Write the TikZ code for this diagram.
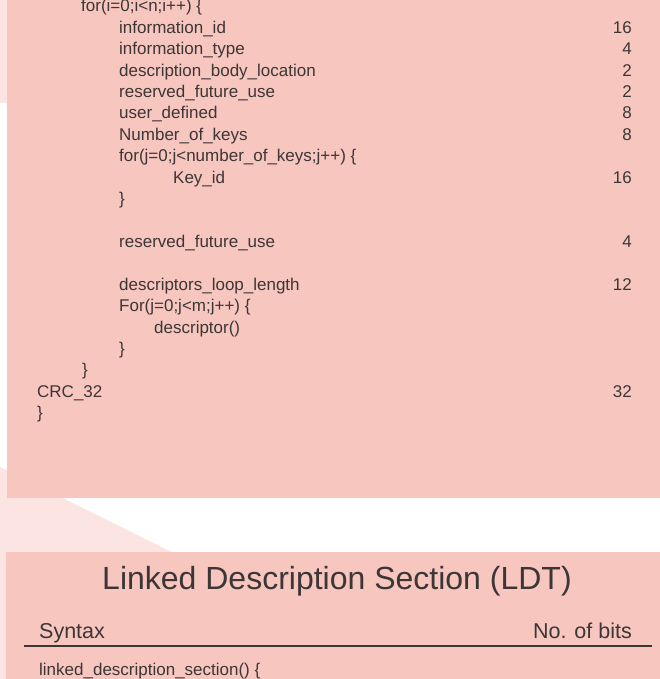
\documentclass[tikz,border=0pt]{standalone}
\usepackage{fontspec}
\setmainfont{Liberation Sans}
\definecolor{ldtpink}{HTML}{F7C6BE}
\definecolor{ldtpale}{HTML}{FBE4E2}
\definecolor{ldtink}{HTML}{3C3636}
\tikzset{
  row/.style={anchor=base west,inner sep=0pt,text=ldtink,font=\fontsize{17}{20}\selectfont},
  bits/.style={anchor=base east,inner sep=0pt,text=ldtink,font=\fontsize{17}{20}\selectfont},
  head/.style={inner sep=0pt,text=ldtink,font=\fontsize{21.5}{24}\selectfont}
}

\begin{document}
\begin{tikzpicture}[x=1pt,y=-1pt]
    \useasboundingbox (0,0) rectangle (660,679);
    \path[fill=ldtpale] (0,0) rectangle (200,103);
    \path[fill=ldtpale] (0,467) -- (230,581) -- (230,679) -- (0,679) -- cycle;
    \path[fill=ldtpink] (7,0) rectangle (660,498);
    \path[fill=ldtpink] (6,552) rectangle (660,679);

    \node[row] (fori) at (81,12) {for(i=0;i<n;i++) \{};
    \node[row] (infoid) at (119,33.4) {information\_id};
    \node[row] (infotype) at (119,54.8) {information\_type};
    \node[row] (bodyloc) at (119,76.2) {description\_body\_location};
    \node[row] (rfuone) at (119,97.6) {reserved\_future\_use};
    \node[row] (userdef) at (119,119) {user\_defined};
    \node[row] (numkeys) at (119,140.4) {Number\_of\_keys};
    \node[row] (forj) at (119,161.8) {for(j=0;j<number\_of\_keys;j++) \{};
    \node[row] (keyid) at (173,183.2) {Key\_id};
    \node[row] (closej) at (119,204.6) {\}};
    \node[row] (rfutwo) at (119,247.4) {reserved\_future\_use};
    \node[row] (looplen) at (119,290.2) {descriptors\_loop\_length};
    \node[row] (form) at (119,311.6) {For(j=0;j<m;j++) \{};
    \node[row] (desc) at (154,333) {descriptor()};
    \node[row] (closem) at (119,354.4) {\}};
    \node[row] (closei) at (82,375.8) {\}};
    \node[row] (crc) at (37,397.2) {CRC\_32};
    \node[row] (closesec) at (37,418.6) {\}};

    \node[bits] (infoidbits) at (632,33.4) {16};
    \node[bits] (infotypebits) at (632,54.8) {4};
    \node[bits] (bodylocbits) at (632,76.2) {2};
    \node[bits] (rfuonebits) at (632,97.6) {2};
    \node[bits] (userdefbits) at (632,119) {8};
    \node[bits] (numkeysbits) at (632,140.4) {8};
    \node[bits] (keyidbits) at (632,183.2) {16};
    \node[bits] (rfutwobits) at (632,247.4) {4};
    \node[bits] (looplenbits) at (632,290.2) {12};
    \node[bits] (crcbits) at (632,397.2) {32};

    \node[anchor=base,inner sep=0pt,text=ldtink,font=\fontsize{32}{36}\selectfont] (title)
      at (337,589) {Linked Description Section (LDT)};
    \node[head,anchor=base west] (syntax) at (39,638) {Syntax};
    \node[head,anchor=base east] (nbits) at (632,638) {No. of bits};
    \coordinate (rulel) at (24,646);
    \coordinate (ruler) at (652,646);
    \draw[ldtink,line width=1.3pt] (rulel) -- (ruler);
    \node[row] (ldtsec) at (39,675) {linked\_description\_section() \{};
  \end{tikzpicture}
\end{document}
